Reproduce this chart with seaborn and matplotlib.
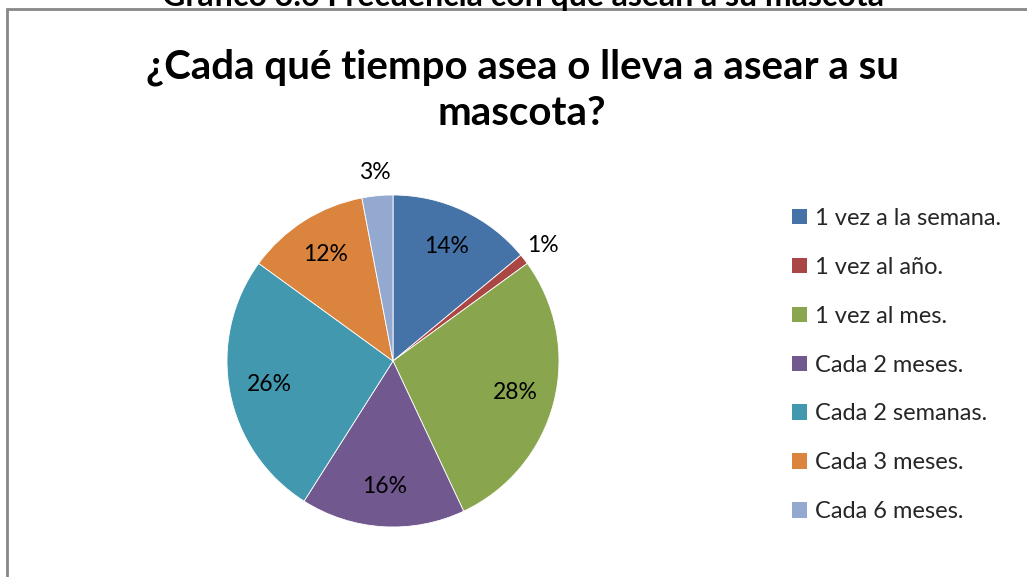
import matplotlib
matplotlib.use("Agg")
import matplotlib.pyplot as plt
from matplotlib.patches import Rectangle
import seaborn as sns
import numpy as np

categorias = ["1 vez a la semana.", "1 vez al año.", "1 vez al mes.", "Cada 2 meses.",
              "Cada 2 semanas.", "Cada 3 meses.", "Cada 6 meses."]
porcentajes = [14, 1, 28, 16, 26, 12, 3]
colores = ["#4572A7", "#AA4643", "#89A54E", "#71588F", "#4198AF", "#DB843D", "#93A9CF"]
titulo_l1 = "¿Cada qué tiempo asea o lleva a asear a su"
titulo_l2 = "mascota?"
rotulo_superior = "Gráfico 3.6 Frecuencia con que asean a su mascota"

sns.set_theme(style="white")
plt.rcParams["font.family"] = ["Lato", "DejaVu Sans"]
paleta = sns.color_palette(colores)

W, H = 1027, 577
fig = plt.figure(figsize=(W / 100, H / 100), dpi=100)

# chart frame
fig.patches.append(Rectangle((7 / W, -0.05), 1.1, 1 - 9 / H + 0.05, transform=fig.transFigure,
                             fill=False, edgecolor="#878787", linewidth=2))

# caption above the frame, partly outside the page
fig.text(523 / W, 1 - 6 / H, rotulo_superior, ha="center", va="baseline",
         fontsize=23, fontweight="bold", color="black")

fig.text(522 / W, 1 - 78 / H, titulo_l1, ha="center", va="baseline", fontsize=29,
         fontweight="bold", color="black")
fig.text(522 / W, 1 - 125 / H, titulo_l2, ha="center", va="baseline", fontsize=29,
         fontweight="bold", color="black")

cx, cy, r = 393, 361, 166
ax = fig.add_axes([(cx - r) / W, (H - cy - r) / H, 2 * r / W, 2 * r / H])
wedges, _, autotexts = ax.pie(porcentajes, colors=paleta, startangle=90, counterclock=False,
                              autopct="%1.0f%%", pctdistance=0.76,
                              wedgeprops=dict(linewidth=0.6, edgecolor="white"),
                              textprops=dict(fontsize=16.5, color="black"))
ax.set_xlim(-1, 1)
ax.set_ylim(-1, 1)
ax.set_aspect("auto")
ax.axis("off")

# small slices get their label placed outside the pie
for w, t, v in zip(wedges, autotexts, porcentajes):
    if v < 5:
        ang = np.deg2rad((w.theta1 + w.theta2) / 2)
        d = 1.14
        t.set_position((d * np.cos(ang), d * np.sin(ang)))
    t.set_clip_on(False)

handles = [Rectangle((0, 0), 1, 1, facecolor=c, edgecolor="none") for c in paleta]
fig.legend(handles, categorias, loc="upper left", bbox_to_anchor=(792 / W, 1 - 208 / H),
           frameon=False, fontsize=17, labelspacing=1.18, handlelength=0.62,
           handleheight=0.62, handletextpad=0.35, borderpad=0, borderaxespad=0)

fig.savefig("out.png", dpi=100, facecolor="white")
